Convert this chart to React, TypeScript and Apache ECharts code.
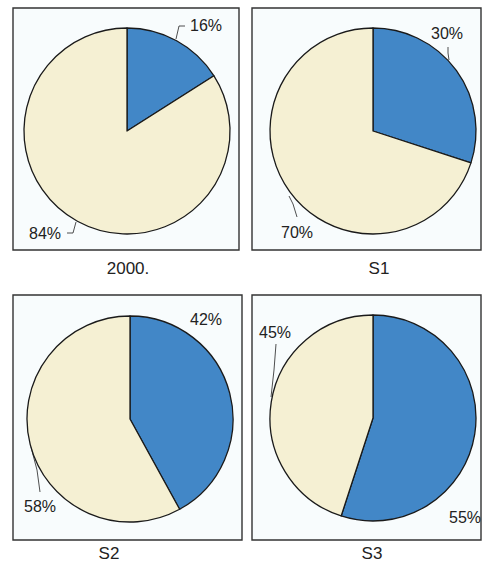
import React, { useEffect, useRef } from "react";
import * as echarts from "echarts";

const panelTitles = ["2000.", "S1", "S2", "S3"];
const sliceNames = ["Blue", "Cream"];
const blueValues = [16, 30, 42, 55];
const creamValues = [84, 70, 58, 45];

// layout (not data)
const centers = [[127, 131], [373, 131], [130, 419], [373, 418]];
const radius = 103;
const boxes = [
  [13, 8, 226, 242],
  [252, 8, 229, 242],
  [13, 295, 229, 245],
  [252, 295, 229, 245],
];
const titlePos = [[128, 268], [379, 268], [109, 553], [372, 553]];
// [textX, textY, linePoints | null] per panel, per slice
const labelLayouts: any[][] = [
  [
    [206, 25, [[176, 39], [179, 26], [185, 26]]],
    [45, 233, [[67, 233], [73, 233], [76, 222]]],
  ],
  [
    [447, 33, [[448, 47], [448, 53], [449, 60]]],
    [297, 232, [[297, 217], [293, 204], [289, 196]]],
  ],
  [
    [206, 319, null],
    [40, 506, [[40, 492], [37, 470], [31, 447]]],
  ],
  [
    [465, 517, null],
    [275, 332, [[276, 344], [274, 370], [271, 397]]],
  ],
];

const BLUE = "#4287c7";
const CREAM = "#f5f0d3";

export default function App() {
  const ref = useRef<HTMLDivElement>(null);
  useEffect(() => {
    if (!ref.current) return;
    const chart = echarts.init(ref.current, null, { renderer: "svg" });
    const series = panelTitles.map((_, i) => ({
      type: "pie",
      z: 3,
      center: centers[i],
      radius: radius,
      startAngle: 90,
      clockwise: true,
      avoidLabelOverlap: false,
      silent: true,
      itemStyle: { borderColor: "#1a1a1a", borderWidth: 1.3 },
      label: {
        show: true,
        position: "outside",
        formatter: (p: any) => p.value + "%",
        color: "#222",
        fontSize: 16,
        fontFamily: "Liberation Sans, Arial, sans-serif",
      },
      labelLine: {
        show: true,
        smooth: false,
        lineStyle: { color: "#222", width: 0.8 },
      },
      labelLayout: (params: any) => {
        const l = labelLayouts[i][params.dataIndex];
        const out: any = { x: l[0], y: l[1], align: "center", verticalAlign: "middle" };
        if (l[2]) out.labelLinePoints = l[2];
        return out;
      },
      data: [
        {
          name: sliceNames[0],
          value: blueValues[i],
          itemStyle: { color: BLUE },
          labelLine: { show: !!labelLayouts[i][0][2] },
        },
        {
          name: sliceNames[1],
          value: creamValues[i],
          itemStyle: { color: CREAM },
          labelLine: { show: !!labelLayouts[i][1][2] },
        },
      ],
    }));
    const graphics: any[] = [];
    boxes.forEach((b) => {
      graphics.push({
        type: "rect",
        z: -10,
        shape: { x: b[0], y: b[1], width: b[2], height: b[3] },
        style: { fill: "#f8fcfd", stroke: "#333", lineWidth: 1.4 },
      });
    });
    panelTitles.forEach((t, i) => {
      graphics.push({
        type: "text",
        x: titlePos[i][0],
        y: titlePos[i][1],
        style: {
          text: t,
          align: "center",
          verticalAlign: "middle",
          fontSize: 17,
          fill: "#222",
          fontFamily: "Liberation Sans, Arial, sans-serif",
        },
      });
    });
    chart.setOption({
      animation: false,
      backgroundColor: "#ffffff",
      graphic: graphics,
      series,
    });
    return () => chart.dispose();
  }, []);
  return (
    <div
      ref={ref}
      style={{ position: "fixed", left: 0, top: 0, width: 483, height: 562 }}
    />
  );
}
